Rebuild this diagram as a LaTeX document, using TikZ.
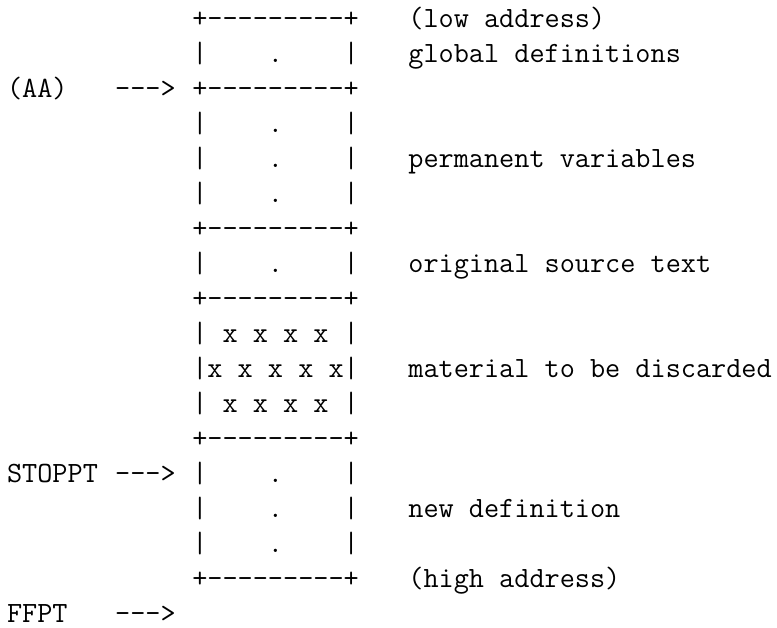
\documentclass[tikz,border=0pt]{standalone}
\usepackage{fontspec}
\setmonofont{Latin Modern Mono}
\newcommand\cw{15.435}
\newcommand\ox{7.07}
\newcommand\rowy[1]{(27.4+(#1-1)*35.0)}
\tikzset{
  tt/.style={font=\fontsize{29.4}{35}\selectfont\ttfamily, inner sep=0pt, outer sep=0pt, anchor=base west},
}
\newcommand\at[2]{({\ox+#1*\cw},{\rowy{#2}})}
\begin{document}
\begin{tikzpicture}[x=1pt,y=-1pt]
\useasboundingbox (0,0) rectangle (777,628);
% memory column
\node[tt] (b1)  at \at{12}{1}  {+-{}-{}-{}-{}-{}-{}-{}-{}-+};
\node[tt] (b2)  at \at{12}{2}  {|~~~~.~~~~|};
\node[tt] (b3)  at \at{12}{3}  {+-{}-{}-{}-{}-{}-{}-{}-{}-+};
\node[tt] (b4)  at \at{12}{4}  {|~~~~.~~~~|};
\node[tt] (b5)  at \at{12}{5}  {|~~~~.~~~~|};
\node[tt] (b6)  at \at{12}{6}  {|~~~~.~~~~|};
\node[tt] (b7)  at \at{12}{7}  {+-{}-{}-{}-{}-{}-{}-{}-{}-+};
\node[tt] (b8)  at \at{12}{8}  {|~~~~.~~~~|};
\node[tt] (b9)  at \at{12}{9}  {+-{}-{}-{}-{}-{}-{}-{}-{}-+};
\node[tt] (b10) at \at{12}{10} {|~x~x~x~x~|};
\node[tt] (b11) at \at{12}{11} {|x~x~x~x~x|};
\node[tt] (b12) at \at{12}{12} {|~x~x~x~x~|};
\node[tt] (b13) at \at{12}{13} {+-{}-{}-{}-{}-{}-{}-{}-{}-+};
\node[tt] (b14) at \at{12}{14} {|~~~~.~~~~|};
\node[tt] (b15) at \at{12}{15} {|~~~~.~~~~|};
\node[tt] (b16) at \at{12}{16} {|~~~~.~~~~|};
\node[tt] (b17) at \at{12}{17} {+-{}-{}-{}-{}-{}-{}-{}-{}-+};
% pointers
\node[tt] (aa)     at \at{0}{3}  {(AA)};
\node[tt] (aaarr)  at \at{7}{3}  {-{}-{}->};
\node[tt] (stop)   at \at{0}{14} {STOPPT};
\node[tt] (stoparr) at \at{7}{14} {-{}-{}->};
\node[tt] (ffpt)   at \at{0}{18} {FFPT};
\node[tt] (ffarr)  at \at{7}{18} {-{}-{}->};
% descriptions
\node[tt] (low)  at \at{26}{1}  {(low address)};
\node[tt] (glob) at \at{26}{2}  {global definitions};
\node[tt] (perm) at \at{26}{5}  {permanent variables};
\node[tt] (orig) at \at{26}{8}  {original source text};
\node[tt] (disc) at \at{26}{11} {material to be discarded};
\node[tt] (newd) at \at{26}{15} {new definition};
\node[tt] (high) at \at{26}{17} {(high address)};
\end{tikzpicture}
\end{document}
